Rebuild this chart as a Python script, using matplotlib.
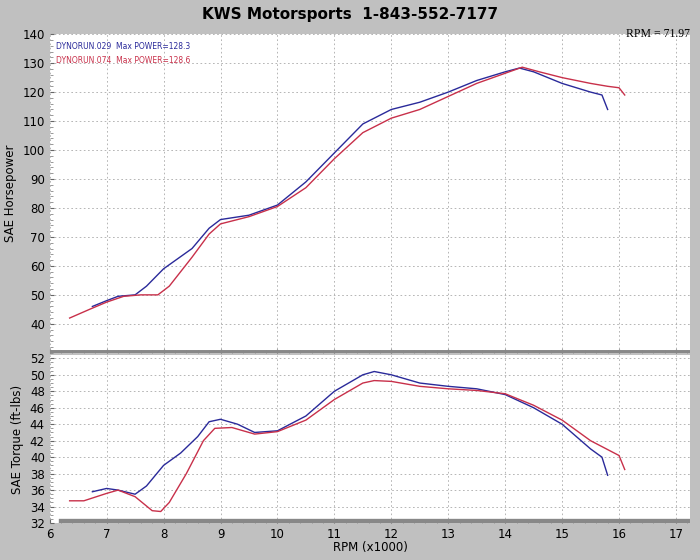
import matplotlib
matplotlib.use("Agg")
import matplotlib.pyplot as plt
from matplotlib.ticker import MultipleLocator

# Run 029 (blue)
rpm_a = [6.75, 7.0, 7.2, 7.5, 7.7, 8.0, 8.5, 8.8, 9.0, 9.5, 10.0, 10.5, 11.0, 11.5, 12.0,
         12.5, 13.0, 13.5, 14.0, 14.25, 14.5, 15.0, 15.5, 15.7, 15.8]
hp_a = [46, 48, 49.5, 50, 53, 59, 66, 73, 76, 77.5, 81, 89, 99, 109, 114,
        116.5, 120, 124, 127, 128.3, 127, 123, 120, 119, 114]
rpm_at = [6.75, 7.0, 7.2, 7.5, 7.7, 8.0, 8.3, 8.6, 8.8, 9.0, 9.3, 9.6, 10.0, 10.5, 11.0,
          11.5, 11.7, 12.0, 12.5, 13.0, 13.5, 14.0, 14.5, 15.0, 15.5, 15.7, 15.8]
tq_a = [35.8, 36.2, 36, 35.5, 36.5, 39, 40.5, 42.5, 44.3, 44.6, 44, 43, 43.2, 45, 48,
        50, 50.4, 50, 49, 48.6, 48.3, 47.6, 46, 44, 41, 40, 37.8]

# Run 074 (red)
rpm_b = [6.35, 6.7, 7.0, 7.3, 7.6, 7.9, 8.1, 8.5, 8.8, 9.0, 9.5, 10.0, 10.5, 11.0, 11.5,
         12.0, 12.5, 13.0, 13.5, 14.0, 14.3, 14.6, 15.0, 15.5, 15.8, 16.0, 16.1]
hp_b = [42, 45, 47.5, 49.5, 50, 50, 53, 63, 71, 74.5, 77, 80.5, 87, 97, 106,
        111, 114, 118.5, 123, 126.5, 128.6, 127, 125, 123, 122, 121.5, 119]
rpm_bt = [6.35, 6.6, 7.0, 7.2, 7.5, 7.8, 7.95, 8.1, 8.4, 8.7, 8.9, 9.2, 9.6, 10.0, 10.5,
          11.0, 11.5, 11.7, 12.0, 12.5, 13.0, 13.5, 14.0, 14.5, 15.0, 15.5, 16.0, 16.1]
tq_b = [34.7, 34.7, 35.6, 36, 35.2, 33.5, 33.4, 34.5, 38, 42, 43.5, 43.6, 42.8, 43.1, 44.5,
        47, 49, 49.3, 49.2, 48.6, 48.3, 48.1, 47.7, 46.3, 44.5, 42, 40.2, 38.5]

BLUE = "#2a2a9a"
RED = "#c8304a"
BG = "#c0c0c0"

fig = plt.figure(figsize=(7, 5.6), dpi=100, facecolor=BG)
fig.text(0.5, 0.975, "KWS Motorsports  1-843-552-7177", ha="center", va="center",
         fontsize=11, weight="bold")
fig.text(0.985, 0.94, "RPM = 71.97", ha="right", va="center", fontsize=8.5,
         family="Liberation Serif")

ax1 = fig.add_axes([0.071, 0.370, 0.915, 0.569])
ax2 = fig.add_axes([0.071, 0.066, 0.915, 0.300])

for ax in (ax1, ax2):
    ax.set_facecolor("white")
    ax.set_xlim(6, 17.25)
    ax.xaxis.set_major_locator(MultipleLocator(1))
    ax.xaxis.set_minor_locator(MultipleLocator(0.2))
    ax.grid(True, which="major", color="#aaaaaa", linestyle=(0, (2, 3)), linewidth=0.6)
    ax.tick_params(which="major", direction="in", labelsize=8.5, length=3, color="#666666")
    ax.tick_params(which="minor", direction="in", length=2, color="#888888")
    for s in ax.spines.values():
        s.set_visible(False)

ax1.plot(rpm_a, hp_a, color=BLUE, lw=1)
ax1.plot(rpm_b, hp_b, color=RED, lw=1)
ax1.set_ylim(30, 140)
ax1.set_yticks(range(40, 141, 10))
ax1.yaxis.set_minor_locator(MultipleLocator(2))
ax1.tick_params(axis="x", labelbottom=False)
ax1.set_ylabel("SAE Horsepower", fontsize=8.5)
ax1.text(0.01, 0.975, "DYNORUN.029  Max POWER=128.3", transform=ax1.transAxes,
         color=BLUE, fontsize=5.5, va="top")
ax1.text(0.01, 0.93, "DYNORUN.074  Max POWER=128.6", transform=ax1.transAxes,
         color=RED, fontsize=5.5, va="top")
ax1.axhline(30, color="#888888", lw=5)

ax2.plot(rpm_at, tq_a, color=BLUE, lw=1)
ax2.plot(rpm_bt, tq_b, color=RED, lw=1)
ax2.set_ylim(32, 52.4)
ax2.set_yticks(range(32, 53, 2))
ax2.yaxis.set_minor_locator(MultipleLocator(0.5))
ax2.set_ylabel("SAE Torque (ft-lbs)", fontsize=8.5)
ax2.set_xlabel("RPM (x1000)", fontsize=8.5, labelpad=0)
ax2.axhline(32, xmin=0.02, color="#888888", lw=6)

fig.savefig("out.png", dpi=100, facecolor=BG)
